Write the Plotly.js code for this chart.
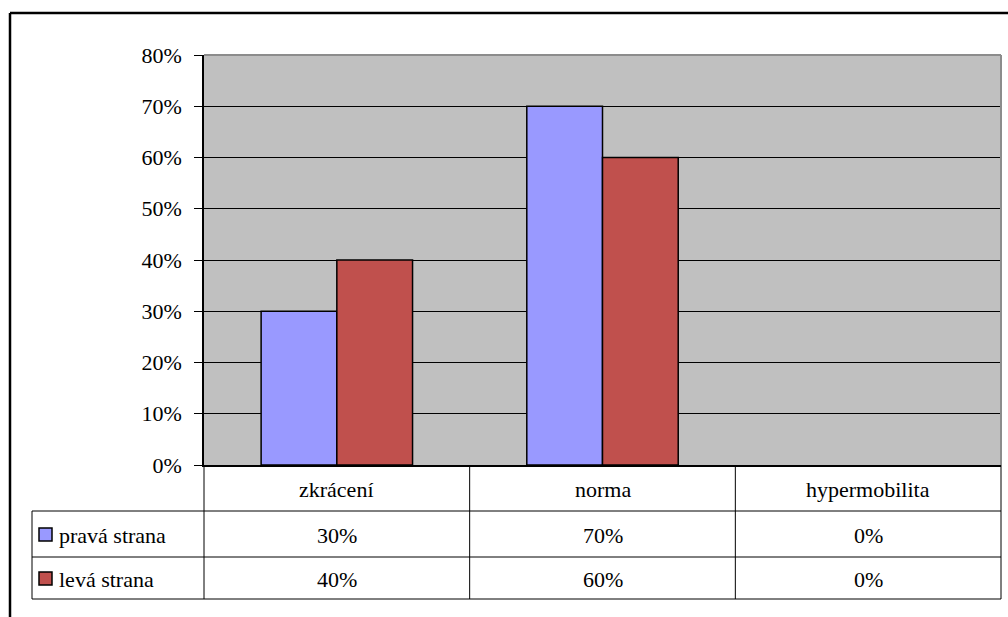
<!DOCTYPE html>
<html>
<head>
<meta charset="utf-8">
<script src="https://cdn.plot.ly/plotly-3.0.1.min.js"></script>
</head>
<body style="margin:0; background:#ffffff">
<div id="chart" style="width:1008px;height:617px"></div>
<script>
// Categories and series (percent)
const categories = ["zkrácení", "norma", "hypermobilita"];
const seriesNames = ["pravá strana", "levá strana"];
const pravaStrana = [30, 70, 0];
const levaStrana = [40, 60, 0];
const yTickVals = [0, 10, 20, 30, 40, 50, 60, 70, 80];
const yTickText = ["0%", "10%", "20%", "30%", "40%", "50%", "60%", "70%", "80%"];

const seriesValues = [pravaStrana, levaStrana];
const seriesColors = ["#9999FF", "#C0504D"];
const chartFont = "Liberation Serif, Times New Roman, Times, serif";

(function () {
  // plot-area geometry in pixels, turned into paper fractions for the data table
  const figW = 1008, figH = 617;
  const margins = { l: 204, r: 7, t: 55, b: 152 };
  const plotW = figW - margins.l - margins.r;
  const plotH = figH - margins.t - margins.b;
  const toPaperX = x => (x - margins.l) / plotW;
  const toPaperY = y => (figH - margins.b - y) / plotH;

  const traces = seriesNames.map((name, i) => ({
    type: "bar",
    name: name,
    x: categories,
    y: seriesValues[i],
    marker: {
      color: seriesColors[i],
      // empty bars get no outline
      line: { color: "#000000", width: seriesValues[i].map(v => (v > 0 ? 1.5 : 0)) }
    },
    hoverinfo: "skip"
  }));

  // data-table rows (pixel positions)
  const headerBottom = 511, row1Bottom = 557, row2Bottom = 599, tableLeft = 32;
  const tableLine = { color: "#000000", width: 1 };

  const shapeList = [];
  // plot-area frame: gray top and right edges
  shapeList.push({ type: "line", xref: "paper", yref: "paper", x0: 0, x1: 1, y0: 1, y1: 1, line: { color: "#8c8c8c", width: 2 }, layer: "above" });
  shapeList.push({ type: "line", xref: "paper", yref: "paper", x0: 1, x1: 1, y0: 0, y1: 1, line: { color: "#8c8c8c", width: 2 }, layer: "above" });
  // horizontal table lines
  [headerBottom, row1Bottom, row2Bottom].forEach(y => {
    shapeList.push({ type: "line", xref: "paper", yref: "paper", x0: toPaperX(tableLeft), x1: 1, y0: toPaperY(y), y1: toPaperY(y), line: tableLine });
  });
  // left border of the series rows
  shapeList.push({ type: "line", xref: "paper", yref: "paper", x0: toPaperX(tableLeft), x1: toPaperX(tableLeft), y0: toPaperY(headerBottom), y1: toPaperY(row2Bottom), line: tableLine });
  // vertical table lines: plot left edge, category boundaries, right edge
  shapeList.push({ type: "line", xref: "paper", yref: "paper", x0: 0, x1: 0, y0: 0, y1: toPaperY(row2Bottom), line: tableLine });
  for (let k = 0; k < categories.length - 1; k++) {
    shapeList.push({ type: "line", xref: "x", yref: "paper", x0: k + 0.5, x1: k + 0.5, y0: 0, y1: toPaperY(row2Bottom), line: tableLine });
  }
  shapeList.push({ type: "line", xref: "paper", yref: "paper", x0: 1, x1: 1, y0: 0, y1: toPaperY(row2Bottom), line: tableLine });
  // legend keys inside the table
  const rowCenters = [(headerBottom + row1Bottom) / 2, (row1Bottom + row2Bottom) / 2];
  rowCenters.forEach((yc, i) => {
    shapeList.push({ type: "rect", xref: "paper", yref: "paper",
      x0: toPaperX(39), x1: toPaperX(52), y0: toPaperY(yc - 6), y1: toPaperY(yc + 7),
      fillcolor: seriesColors[i], line: { color: "#000000", width: 1.5 } });
  });
  // outer chart frame (top and left edges)
  shapeList.push({ type: "line", xref: "paper", yref: "paper", x0: toPaperX(10), x1: toPaperX(1010), y0: toPaperY(13), y1: toPaperY(13), line: { color: "#000000", width: 2.5 } });
  shapeList.push({ type: "line", xref: "paper", yref: "paper", x0: toPaperX(10), x1: toPaperX(10), y0: toPaperY(13), y1: toPaperY(620), line: { color: "#000000", width: 2.5 } });

  const noteList = [];
  const txtFont = { family: chartFont, size: 22, color: "#000000" };
  // category header row
  categories.forEach(c => {
    noteList.push({ xref: "x", yref: "paper", x: c, y: toPaperY((margins.t + plotH + headerBottom) / 2 + 1),
      text: c, showarrow: false, font: txtFont, xanchor: "center", yanchor: "middle" });
  });
  // series rows
  seriesNames.forEach((name, i) => {
    noteList.push({ xref: "paper", yref: "paper", x: toPaperX(57), y: toPaperY(rowCenters[i] + 1),
      text: name, showarrow: false, font: txtFont, xanchor: "left", yanchor: "middle" });
    seriesValues[i].forEach((v, k) => {
      noteList.push({ xref: "x", yref: "paper", x: categories[k], y: toPaperY(rowCenters[i] + 1),
        text: v + "%", showarrow: false, font: txtFont, xanchor: "center", yanchor: "middle" });
    });
  });

  const layout = {
    width: figW, height: figH,
    margin: margins,
    paper_bgcolor: "#ffffff",
    plot_bgcolor: "#C0C0C0",
    showlegend: false,
    barmode: "group",
    bargap: 0.43,
    bargroupgap: 0,
    font: { family: chartFont, size: 22, color: "#000000" },
    xaxis: {
      type: "category",
      showticklabels: false,
      ticks: "",
      showgrid: false,
      showline: true, linecolor: "#000000", linewidth: 1.5,
      zeroline: false,
      fixedrange: true
    },
    yaxis: {
      range: [0, 80],
      tickvals: yTickVals,
      ticktext: yTickText,
      ticks: "outside", ticklen: 8, tickcolor: "#000000", tickwidth: 1,
      ticklabelstandoff: 8,
      showline: true, linecolor: "#000000", linewidth: 1.5,
      showgrid: true, gridcolor: "#000000", gridwidth: 1,
      zeroline: false,
      tickfont: { family: chartFont, size: 22, color: "#000000" },
      fixedrange: true
    },
    shapes: shapeList,
    annotations: noteList
  };

  Plotly.newPlot("chart", traces, layout, { displayModeBar: false });
})();
</script>
</body>
</html>
